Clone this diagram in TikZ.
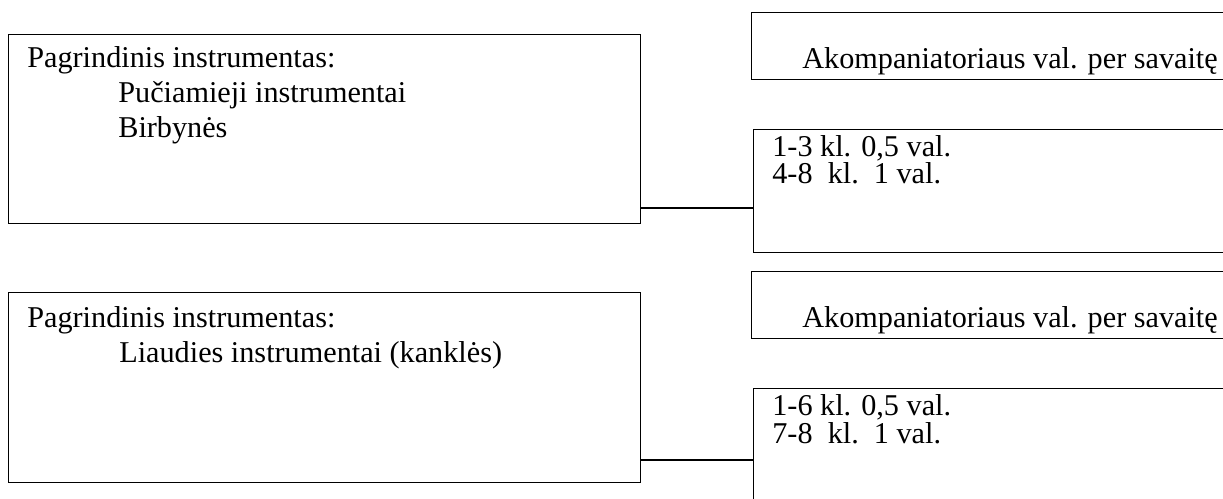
\documentclass[tikz,border=0pt]{standalone}
\usepackage{fontspec}
\setmainfont{Liberation Serif}

\begin{document}
\begin{tikzpicture}[x=0.02cm, y=-0.02cm,
    box/.style={draw, line width=0.6pt, inner sep=0pt, anchor=north west},
    txt/.style={inner sep=0pt, anchor=base west, font=\fontsize{17.2}{20}\selectfont},
    link/.style={line width=1.2pt}]
    \useasboundingbox (0,0) rectangle (1223,499);
    \clip (0,0) rectangle (1223,499);
    %\fill[white] (0,0) rectangle (1223,499);
    % top group
    \node[box, minimum width=12.64cm, minimum height=3.78cm] (mainA) at (  8, 34) {};
    \node[box, minimum width=10cm,    minimum height=1.34cm] (accA)  at (751, 12) {};
    \node[box, minimum width=10cm,    minimum height=2.46cm] (hrsA)  at (753,129) {};
    \node[txt] (mainA1) at ( 27, 68) {Pagrindinis instrumentas:};
    \node[txt] (mainA2) at (118,103) {Pučiamieji instrumentai};
    \node[txt] (mainA3) at (118,138) {Birbynės};
    \node[txt] (accA1)  at (802, 69) {Akompaniatoriaus val. per savaitę};
    \node[txt] (hrsA1)  at (772,157) {1-3 kl. 0,5 val.};
    \node[txt] (hrsA2)  at (772,184) {4-8\ \ kl.\ \ 1 val.};
    \coordinate (jA) at (0,208);
    \draw[link] (mainA.east |- jA) -- (hrsA.west |- jA);
    % bottom group
    \node[box, minimum width=12.64cm, minimum height=3.8cm]  (mainB) at (  8,292) {};
    \node[box, minimum width=10cm,    minimum height=1.34cm] (accB)  at (751,271) {};
    \node[box, minimum width=10cm,    minimum height=3cm]    (hrsB)  at (753,388) {};
    \node[txt] (mainB1) at ( 27,328) {Pagrindinis instrumentas:};
    \node[txt] (mainB2) at (119,363) {Liaudies instrumentai (kanklės)};
    \node[txt] (accB1)  at (802,328) {Akompaniatoriaus val. per savaitę};
    \node[txt] (hrsB1)  at (772,416) {1-6 kl. 0,5 val.};
    \node[txt] (hrsB2)  at (772,443) {7-8\ \ kl.\ \ 1 val.};
    \coordinate (jB) at (0,460);
    \draw[link] (mainB.east |- jB) -- (hrsB.west |- jB);
\end{tikzpicture}
\end{document}
